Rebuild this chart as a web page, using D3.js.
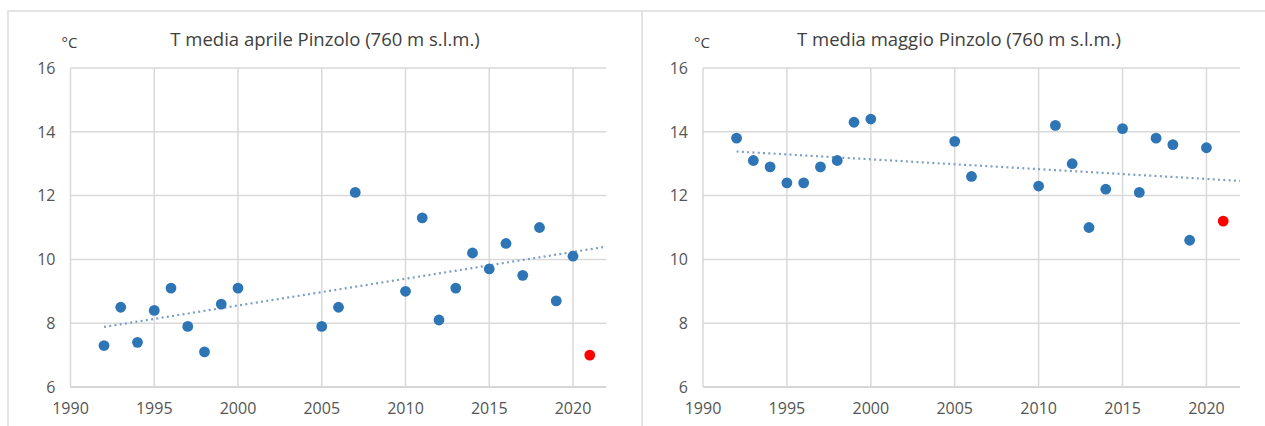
<!DOCTYPE html>
<html>
<head>
<meta charset="utf-8">
<script src="https://cdn.jsdelivr.net/npm/d3@7"></script>
<style>
  body { margin: 0; background: #fff; }
  svg { display: block; }
  text { font-family: "Open Sans", "Noto Sans", sans-serif; fill: #555; }
</style>
</head>
<body>
<div id="chart"></div>
<script>
const
  W = 1265,
  H = 426;

// April series
const aprYears = [1992, 1993, 1994, 1995, 1996, 1997, 1998, 1999, 2000, 2005, 2006, 2007,
  2010, 2011, 2012, 2013, 2014, 2015, 2016, 2017, 2018, 2019, 2020];
const aprTemps = [7.3, 8.5, 7.4, 8.4, 9.1, 7.9, 7.1, 8.6, 9.1, 7.9, 8.5, 12.1,
  9.0, 11.3, 8.1, 9.1, 10.2, 9.7, 10.5, 9.5, 11.0, 8.7, 10.1];

// May series
const mayYears = [1992, 1993, 1994, 1995, 1996, 1997, 1998, 1999, 2000, 2005, 2006,
  2010, 2011, 2012, 2013, 2014, 2015, 2016, 2017, 2018, 2019, 2020];
const mayTemps = [13.8, 13.1, 12.9, 12.4, 12.4, 12.9, 13.1, 14.3, 14.4, 13.7, 12.6,
  12.3, 14.2, 13.0, 11.0, 12.2, 14.1, 12.1, 13.8, 13.6, 10.6, 13.5];

// 2021 (highlighted in red)
const currentYear = 2021;
const aprCurrent = 7.0;
const mayCurrent = 11.2;

const titles = ["T media aprile Pinzolo (760 m s.l.m.)", "T media maggio Pinzolo (760 m s.l.m.)"];
const xTicks = [1990, 1995, 2000, 2005, 2010, 2015, 2020];
const yTicks = [6, 8, 10, 12, 14, 16];
const xDomain = [1990, 2022];
const yDomain = [6, 16];

const svg = d3.select("#chart")
  .append("svg")
  .attr("width", W)
  .attr("height", H);

// panel frames
svg.append("path")
  .attr("d", "M8," + H + "V11H" + W + "M642,11V" + H)
  .attr("fill", "none")
  .attr("stroke", "#dcdcdc")
  .attr("stroke-width", 1.5);

// the May trendline in the source also takes the 2021 value into account
const panels = [
  { title: titles[0], years: aprYears, temps: aprTemps, current: aprCurrent, trendWithCurrent: false,
    x0: 8, left: 70.5, right: 606.5 },
  { title: titles[1], years: mayYears, temps: mayTemps, current: mayCurrent, trendWithCurrent: true,
    x0: 642, left: 703, right: 1240 }
];

panels.forEach(drawPanel);

function drawPanel(p) {
  const top = 68, bottom = 387;
  const g = svg.append("g");

  const x = d3.scaleLinear().domain(xDomain).range([p.left, p.right]);
  const y = d3.scaleLinear().domain(yDomain).range([bottom, top]);

  // horizontal grid
  g.append("g")
    .selectAll("line")
    .data(yTicks)
    .enter().append("line")
    .attr("x1", p.left).attr("x2", p.right)
    .attr("y1", d => y(d)).attr("y2", d => y(d))
    .attr("stroke", d => d === yDomain[0] ? "#c8c8c8" : "#d9d9d9")
    .attr("stroke-width", 1.5);

  // vertical grid
  g.append("g")
    .selectAll("line")
    .data(xTicks)
    .enter().append("line")
    .attr("x1", d => x(d)).attr("x2", d => x(d))
    .attr("y1", top).attr("y2", bottom)
    .attr("stroke", "#d9d9d9")
    .attr("stroke-width", 1.5);

  // axis labels
  g.append("g")
    .selectAll("text")
    .data(yTicks)
    .enter().append("text")
    .attr("x", p.left - 15)
    .attr("y", d => y(d))
    .attr("dy", "0.36em")
    .attr("text-anchor", "end")
    .style("font-size", "16px")
    .text(d => d);

  g.append("g")
    .selectAll("text")
    .data(xTicks)
    .enter().append("text")
    .attr("x", d => x(d))
    .attr("y", 414)
    .attr("text-anchor", "middle")
    .style("font-size", "16px")
    .text(d => d);

  // unit and title
  g.append("text")
    .attr("x", p.left - 9)
    .attr("y", 48)
    .style("font-size", "15px")
    .style("fill", "#404040")
    .text("°C");

  g.append("text")
    .attr("x", p.x0 + 317)
    .attr("y", 46)
    .attr("text-anchor", "middle")
    .style("font-size", "18.5px")
    .style("fill", "#404040")
    .text(p.title);

  // linear trend (least squares)
  const ty = p.trendWithCurrent ? p.years.concat([currentYear]) : p.years;
  const tv = p.trendWithCurrent ? p.temps.concat([p.current]) : p.temps;
  const mx = d3.mean(ty), my = d3.mean(tv);
  const slope = d3.sum(ty, (d, i) => (d - mx) * (tv[i] - my)) /
    d3.sum(ty, d => (d - mx) * (d - mx));
  const fit = yr => my + slope * (yr - mx);
  const trendX = [ty[0], xDomain[1]];

  g.append("path")
    .datum(trendX)
    .attr("d", d3.line().x(d => x(d)).y(d => y(fit(d))))
    .attr("fill", "none")
    .attr("stroke", "#7f9fc2")
    .attr("stroke-width", 2.2)
    .attr("stroke-dasharray", "2,3.3");

  // points
  g.append("g")
    .selectAll("circle")
    .data(p.years)
    .enter().append("circle")
    .attr("cx", d => x(d))
    .attr("cy", (d, i) => y(p.temps[i]))
    .attr("r", 5.4)
    .attr("fill", "#2e75b6");

  g.append("circle")
    .attr("cx", x(currentYear))
    .attr("cy", y(p.current))
    .attr("r", 5.4)
    .attr("fill", "#ff0000");
}
</script>
</body>
</html>
